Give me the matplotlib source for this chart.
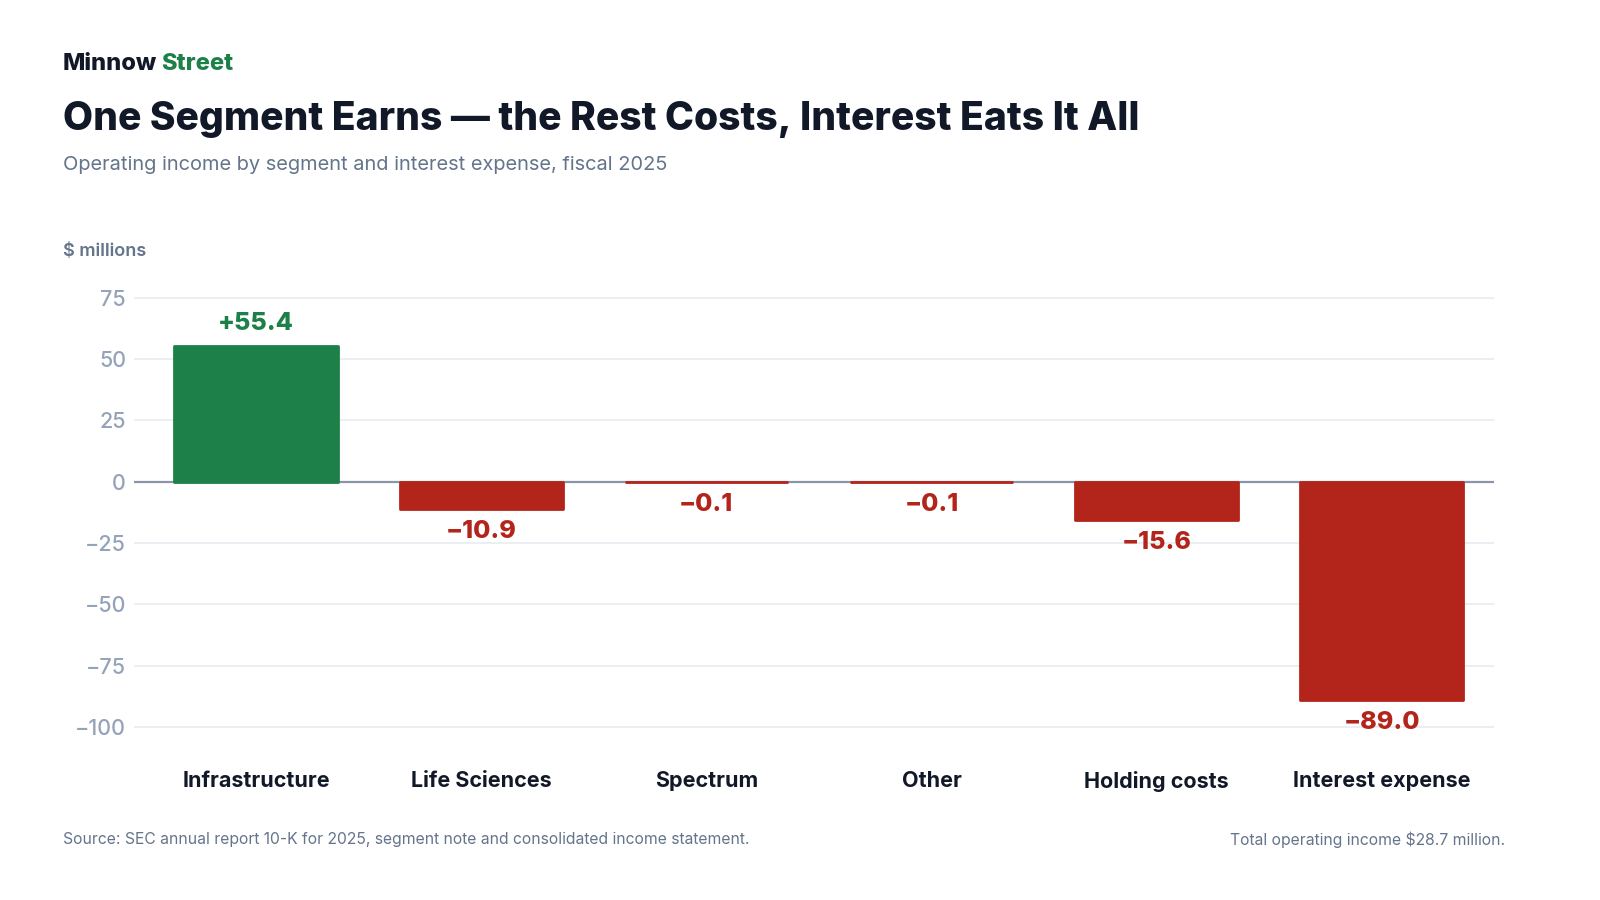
import matplotlib.pyplot as plt
import numpy as np

plt.rcParams['font.family'] = ['Inter', 'DejaVu Sans']

# data
categories = ['Infrastructure', 'Life Sciences', 'Spectrum', 'Other', 'Holding costs', 'Interest expense']
values = [55.4, -10.9, -0.1, -0.1, -15.6, -89.0]
yticks = [75, 50, 25, 0, -25, -50, -75, -100]

GREEN = '#1e8049'
RED = '#b3241b'
DARK = '#111827'
SLATE = '#64748b'
LIGHT = '#94a3b8'

fig = plt.figure(figsize=(16, 9), dpi=100)
fig.patch.set_facecolor('white')

ax = fig.add_axes([0.084, 0.1786, 0.85, 0.4986])
x = np.arange(len(categories))
colors = [GREEN if v > 0 else RED for v in values]
bars = ax.bar(x, values, width=0.725, color=colors, edgecolor=colors, lw=2,
              joinstyle='round', zorder=3)

ax.set_xlim(-0.54, 5.5)
ax.set_ylim(-105, 78)
ax.set_yticks(yticks)
ax.set_yticklabels([str(t).replace('-', '\u2212') for t in yticks])
ax.grid(axis='y', color='#e8ebf0', lw=1.2, zorder=0)
ax.axhline(0, color='#8b95a8', lw=1.6, zorder=2)
for s in ax.spines.values():
    s.set_visible(False)
ax.tick_params(axis='y', length=0, pad=6, labelsize=15.5, labelcolor=LIGHT)
for lab in ax.get_yticklabels():
    lab.set_fontweight('medium')
ax.tick_params(axis='x', length=0, pad=23, labelsize=15.5)
ax.set_xticks(x)
ax.set_xticklabels(categories, fontweight='bold', color=DARK)

# value labels
for xi, v, c in zip(x, values, colors):
    if v > 0:
        txt = '+%.1f' % v
        ax.annotate(txt, (xi, v), xytext=(0, 8), textcoords='offset points',
                    ha='center', va='bottom', fontsize=18, fontweight='heavy', color=c)
    else:
        txt = '\u2212%.1f' % abs(v)
        ax.annotate(txt, (xi, v), xytext=(0, -8), textcoords='offset points',
                    ha='center', va='top', fontsize=18, fontweight='heavy', color=c)

# header
fig.text(0.0394, 0.929, 'Minnow', fontsize=17, fontweight='heavy', color=DARK, va='center')
fig.text(0.1005, 0.929, 'Street', fontsize=17, fontweight='heavy', color=GREEN, va='center')
fig.text(0.0394, 0.8675, 'One Segment Earns \u2014 the Rest Costs, Interest Eats It All',
         fontsize=28.1, fontweight='heavy', color=DARK, va='center')
fig.text(0.0394, 0.817, 'Operating income by segment and interest expense, fiscal 2025',
         fontsize=14.4, color=SLATE, va='center')
fig.text(0.0394, 0.72, '$ millions', fontsize=13, fontweight='semibold', color=SLATE, va='center')

# footer
fig.text(0.0394, 0.0667, 'Source: SEC annual report 10-K for 2025, segment note and consolidated income statement.',
         fontsize=11.3, color=SLATE, va='center')
fig.text(0.9406, 0.0667, 'Total operating income $28.7 million.',
         fontsize=11.3, color=SLATE, va='center', ha='right')

fig.savefig('out.png', dpi=100, facecolor='white')
